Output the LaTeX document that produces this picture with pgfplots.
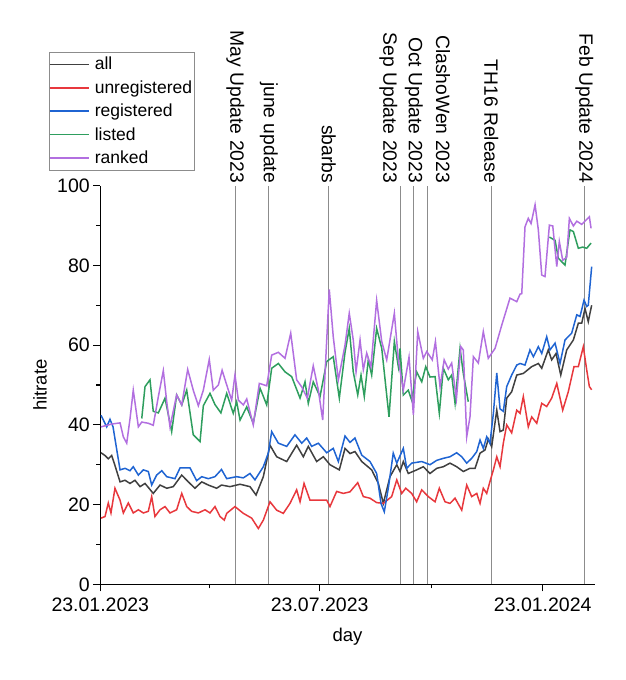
\documentclass[border=0pt]{standalone}
\usepackage{pgfplots}
\pgfplotsset{compat=1.18}
\usepackage{fontspec}
\setmainfont{Liberation Sans}
\definecolor{cAll}{HTML}{404040}
\definecolor{cUnreg}{HTML}{E8383D}
\definecolor{cReg}{HTML}{1F64D2}
\definecolor{cList}{HTML}{2E9E5E}
\definecolor{cRank}{HTML}{B26FE0}
\definecolor{cEvt}{HTML}{8C8C8C}
\begin{document}
\begin{tikzpicture}
\path[use as bounding box] (-100.3pt,-95.7pt) rectangle (525.7pt,584.3pt);
\begin{axis}[
  at={(0pt,0pt)}, anchor=south west,
  width=494.4pt, height=398.6pt, scale only axis,
  xmin=0, xmax=407.9, ymin=0, ymax=100,
  clip=false, no markers, unbounded coords=jump,
  axis x line*=bottom, axis y line*=left,
  axis line style={line width=1.1pt, black},
  tick align=outside,
  major tick length=7pt, minor tick length=4pt,
  every tick/.style={black, line width=1.1pt},
  xtick={0,181,365}, xticklabels={23.01.2023,23.07.2023,23.01.2024},
  minor xtick={90,273},
  ytick={0,20,...,100}, minor ytick={10,30,...,90},
  /pgf/number format/assume math mode=true,
  ticklabel style={font=\fontsize{19.5}{22}\selectfont},
  xticklabel style={yshift=-3pt},
  xlabel={day}, ylabel={hitrate},
  label style={font=\fontsize{18.5}{22}\selectfont},
  xlabel style={at={(axis description cs:0.5,-0.132)}, anchor=center},
  ylabel style={at={(axis description cs:-0.122,0.5)}, anchor=center},
  legend style={at={(-0.1038,1.3347)}, anchor=north west, draw=cEvt,
    font=\fontsize{17.5}{20}\selectfont, inner xsep=0pt, inner ysep=2.8pt, row sep=5.2pt,
    cells={anchor=west}, /tikz/every odd column/.append style={column sep=3pt}},
  legend image code/.code={\draw[#1, line width=1.6pt] (0pt,0pt) -- (39pt,0pt);},
  every axis plot/.append style={line width=1.5pt},
]
% event lines
\draw[cEvt, line width=1pt] (axis cs:111.5,0) -- (axis cs:111.5,100);
\draw[cEvt, line width=1pt] (axis cs:139,0) -- (axis cs:139,100);
\draw[cEvt, line width=1pt] (axis cs:188.6,0) -- (axis cs:188.6,100);
\draw[cEvt, line width=1pt] (axis cs:247.5,0) -- (axis cs:247.5,100);
\draw[cEvt, line width=1pt] (axis cs:258.6,0) -- (axis cs:258.6,100);
\draw[cEvt, line width=1pt] (axis cs:269.6,0) -- (axis cs:269.6,100);
\draw[cEvt, line width=1pt] (axis cs:322.6,0) -- (axis cs:322.6,100);
\draw[cEvt, line width=1pt] (axis cs:399.4,0) -- (axis cs:399.4,100);
\tikzset{evlab/.style={rotate=-90, anchor=east, inner sep=0pt, font=\fontsize{19.3}{22}\selectfont}}
\node[evlab] at ([yshift=2.5pt]axis cs:111.5,100) {May Update 2023};
\node[evlab] at ([yshift=2.5pt]axis cs:139,100) {june update};
\node[evlab] at ([yshift=2.5pt]axis cs:188.6,100) {sbarbs};
\node[evlab] at ([xshift=-12pt,yshift=2.5pt]axis cs:247.5,100) {Sep Update 2023};
\node[evlab] at ([yshift=2.5pt]axis cs:258.6,100) {Oct Update 2023};
\node[evlab] at ([xshift=16pt,yshift=2.5pt]axis cs:269.6,100) {ClashoWen 2023};
\node[evlab] at ([yshift=2.5pt]axis cs:322.6,100) {TH16 Release};
\node[evlab] at ([yshift=2.5pt]axis cs:399.4,100) {Feb Update 2024};

\addplot[cAll] table[row sep=\\] {d v\\
0.6 33.0\\ 3.9 32.3\\ 6.6 31.5\\ 9.4 32.3\\ 12.1 29.8\\ 16.3 25.7\\ 20.4 26.1\\ 24.5 25.3\\
28.6 26.1\\ 32.8 24.5\\ 36.9 25.3\\ 43.7 22.8\\ 49.3 24.9\\ 54.8 24.1\\ 60.2 24.5\\ 67.2 27.4\\
72.6 25.7\\ 78.1 24.1\\ 83.7 25.7\\ 89.1 24.9\\ 96 24.1\\ 100 24.9\\ 107 24.5\\ 115.3 25.1\\
123.5 24.5\\ 128.5 22.4\\ 134.5 27.0\\ 140 34.9\\ 145.5 32.0\\ 153.8 30.8\\ 162 34.9\\ 167.5 32.0\\
171.6 34.6\\ 178.5 30.8\\ 184 32.0\\ 189.5 30.0\\ 197.2 28.7\\ 201.9 34.1\\ 206 32.8\\ 210.1 33.3\\
215.7 30.8\\ 223.9 28.7\\ 229.4 25.3\\ 233.5 20.3\\ 239 27.0\\ 244.6 30.0\\ 247.3 28.3\\ 250 30.8\\
254.1 27.8\\ 261 28.7\\ 266.5 29.5\\ 272 27.8\\ 277.6 29.1\\ 283 29.5\\ 288.5 30.4\\ 294 29.5\\
299.5 28.3\\ 305 29.1\\ 309.2 29.1\\ 313.3 32.9\\ 317.4 33.7\\ 320.1 36.4\\ 322.9 34.5\\ 327.1 43.7\\
329.8 38.3\\ 332.5 38.7\\ 335.3 46.7\\ 339.4 48.3\\ 343.6 52.5\\ 349 52.9\\ 355.9 54.6\\ 361.4 55.4\\
364.2 54.2\\ 369.6 58.8\\ 372.4 56.3\\ 376 57.9\\ 379.9 52.5\\ 384.8 58.8\\ 390.3 61.3\\ 394.4 65.5\\
397.2 65.5\\ 399.9 69.2\\ 402.6 65.9\\ 404 68.0\\ 405.4 70.0\\
};
\addlegendentry{all}
\addplot[cUnreg] table[row sep=\\] {d v\\
0.6 16.6\\ 3.9 17.0\\ 6.6 20.4\\ 8.8 17.9\\ 12.1 24.1\\ 16.3 21.1\\ 19 17.9\\ 23.1 20.4\\
27.2 17.9\\ 31.4 18.7\\ 35.5 17.9\\ 39.6 18.3\\ 42.4 22.0\\ 45.1 17.0\\ 49.3 18.7\\ 53.4 19.5\\
57.5 17.9\\ 63 18.7\\ 67.2 22.8\\ 71.3 19.5\\ 75.4 18.3\\ 80.9 17.9\\ 86.4 18.7\\ 90.5 17.9\\
94.6 19.5\\ 98.8 17.0\\ 102.3 16.1\\ 104.3 17.8\\ 111.1 19.5\\ 118 17.8\\ 124.9 16.6\\ 130.4 14.0\\
134.5 16.1\\ 140 20.7\\ 145.5 18.6\\ 151 17.8\\ 156.5 20.3\\ 162 23.7\\ 164.8 20.7\\ 168.1 25.3\\
173 21.1\\ 179.9 21.1\\ 186.8 21.1\\ 189.5 19.5\\ 195 23.3\\ 200.5 22.8\\ 206 23.2\\ 212.4 25.5\\
217 22.0\\ 222.5 21.6\\ 228 20.5\\ 233.5 20.3\\ 240.4 22.0\\ 244.6 26.2\\ 248.7 22.8\\ 252 24.1\\
256.9 22.8\\ 261 20.7\\ 265.2 23.7\\ 270.6 22.0\\ 276.2 20.7\\ 279.7 24.1\\ 284.4 20.7\\ 288.5 20.3\\
292.7 21.6\\ 298.2 18.6\\ 302.3 24.9\\ 306.4 22.0\\ 310.6 22.8\\ 313.3 20.3\\ 316 24.1\\ 318.8 22.8\\
321.5 25.8\\ 324.3 28.7\\ 327.1 32.0\\ 329.8 29.5\\ 332.5 35.4\\ 335.3 40.0\\ 339.4 38.0\\ 343.6 43.7\\
346.3 42.9\\ 349 47.1\\ 353.1 39.5\\ 355.9 42.0\\ 360.1 40.4\\ 364.2 45.4\\ 368.3 44.6\\ 372.4 46.7\\
376.6 50.4\\ 381.5 43.7\\ 386.1 48.3\\ 390.8 54.6\\ 394.4 54.6\\ 398.5 59.6\\ 401.3 53.8\\ 403.5 49.6\\
405.4 48.8\\
};
\addlegendentry{unregistered}
\addplot[cReg] table[row sep=\\] {d v\\
0.6 42.4\\ 5.3 39.5\\ 8.0 41.4\\ 10.5 39.5\\ 16.3 28.7\\ 20.4 29.1\\ 24.5 28.5\\ 27.2 29.5\\
31.4 27.4\\ 35.5 28.7\\ 39.6 28.3\\ 42.4 24.9\\ 46.5 27.4\\ 50.7 28.5\\ 54.8 27.0\\ 61.6 26.5\\
65.8 29.2\\ 74.0 29.2\\ 79.5 26.0\\ 83.7 27.0\\ 89.1 26.5\\ 94.6 27.0\\ 100 28.8\\ 104.3 26.5\\
112.5 27.0\\ 118 26.7\\ 123.5 27.8\\ 127.6 26.2\\ 134.5 29.5\\ 138.6 32.9\\ 141.4 38.3\\ 146.9 35.4\\
153.8 34.6\\ 160.6 37.5\\ 166.2 35.4\\ 170.3 36.7\\ 174.4 34.6\\ 179.9 35.4\\ 186.8 33.0\\ 192.2 34.1\\
196.4 30.8\\ 201.9 37.2\\ 206 35.6\\ 210.1 36.7\\ 215.7 32.4\\ 222.5 30.8\\ 228 27.8\\ 231.6 20.3\\
234.3 18.2\\ 237.6 24.1\\ 241.7 32.9\\ 244.6 30.4\\ 250 34.1\\ 252.8 29.1\\ 256.9 30.4\\ 265.2 30.8\\
272 30.0\\ 277.6 31.1\\ 283 31.6\\ 288.5 32.0\\ 294 33.0\\ 298.2 32.0\\ 302.3 30.4\\ 306.4 31.6\\
310.6 33.3\\ 313.3 36.2\\ 316 34.1\\ 318.8 37.0\\ 321.5 35.4\\ 324.3 42.9\\ 327.1 53.0\\ 329.8 44.0\\
332.5 43.4\\ 335.3 49.6\\ 339.4 52.5\\ 343.6 55.0\\ 346.3 55.4\\ 350.4 55.0\\ 354.5 58.8\\ 357.3 57.1\\
361.4 59.6\\ 364.2 57.9\\ 368.3 62.1\\ 371 58.8\\ 375.2 60.5\\ 379.3 55.4\\ 383.4 61.3\\ 388.9 63.0\\
393.1 67.6\\ 395.8 67.2\\ 399.1 71.3\\ 401.3 69.7\\ 402.6 70.0\\ 405.4 79.7\\
};
\addlegendentry{registered}
\addplot[cList] table[row sep=\\] {d v\\
34.2 41.6\\ 36.9 49.6\\ 41 51.3\\ 43.7 43.4\\ 47.9 43.0\\ 53.4 46.7\\ 58.9 38.3\\ 63 47.5\\
67.2 45.0\\ 71.3 48.7\\ 76.7 37.5\\ 82.3 35.8\\ 85 44.8\\ 90.5 47.9\\ 94.6 45.1\\ 99.5 43.0\\
104.3 47.9\\ 109.7 42.9\\ 112.5 45.8\\ 115.3 41.2\\ 120.8 44.5\\ 126.2 40.4\\ 131.8 49.2\\ 137.3 45.0\\
141.4 54.2\\ 146.9 55.4\\ 152.4 53.3\\ 157.9 52.1\\ 164.8 46.7\\ 168.9 50.8\\ 171.6 45.4\\ 175.7 50.8\\
181.3 47.1\\ 186.8 55.9\\ 192.2 57.1\\ 197.2 46.7\\ 201.9 58.2\\ 205.4 64.2\\ 208.7 53.3\\ 212.4 47.5\\
215.1 52.5\\ 217.8 47.1\\ 221.1 56.3\\ 223.9 52.5\\ 228 64.2\\ 232.2 59.2\\ 238.2 42.0\\ 242.6 60.9\\
245.9 54.6\\ 247.3 59.2\\ 250 47.5\\ 254.1 48.7\\ 256.9 46.2\\ 261 53.3\\ 265.2 50.8\\ 268.5 54.6\\
272 52.0\\ 276.2 52.1\\ 279.7 42.9\\ 283 54.2\\ 287.1 51.3\\ 289.9 52.5\\ 292.7 45.4\\ 296.8 59.2\\
299.5 52.9\\ 303.6 45.8\\ nan nan\\
370.5 87.1\\ 375.2 86.3\\ 377.9 81.8\\ 383.4 80.1\\ 387.5 88.9\\ 390.3 88.5\\ 394.4 84.3\\ 398 84.6\\
401.3 84.3\\ 404.9 85.6\\
};
\addlegendentry{listed}
\addplot[cRank] table[row sep=\\] {d v\\
0.6 39.5\\ 9.4 40.2\\ 16.3 40.5\\ 19 37.0\\ 21.8 35.4\\ 24.5 41.5\\ 27.2 48.7\\ 31.4 39.5\\
34.2 40.7\\ 39.6 40.4\\ 43.7 39.9\\ 47.9 47.1\\ 52 53.6\\ 54.8 45.8\\ 57.5 39.5\\ 63 47.5\\
67.2 45.0\\ 72.1 53.9\\ 76.7 48.7\\ 80.9 44.8\\ 85 48.7\\ 89.9 56.4\\ 93.2 48.7\\ 97.4 50.0\\
100.5 53.7\\ 104.3 50.0\\ 108.4 46.2\\ 111.1 52.5\\ 113.9 46.2\\ 118 45.0\\ 120.8 46.5\\ 126.2 40.0\\
131.2 50.4\\ 137.3 49.8\\ 141.4 57.5\\ 146.9 58.2\\ 152.4 56.7\\ 157.1 63.0\\ 162 51.3\\ 166.2 49.5\\
170.8 46.7\\ 175.7 54.8\\ 179.9 48.7\\ 183.5 41.2\\ 188.9 74.0\\ 192.2 62.1\\ 196.4 51.3\\ 201.9 60.0\\
205.4 68.0\\ 208.7 61.3\\ 211 53.3\\ 214.3 61.3\\ 217 53.8\\ 219.8 58.0\\ 223.3 54.6\\ 228 71.2\\
232.2 60.9\\ 236.3 56.3\\ 242.6 68.0\\ 245.9 56.3\\ 250 48.7\\ 254.7 57.0\\ 258.3 42.5\\ 261.9 63.4\\
266.5 56.7\\ 269.3 58.4\\ 273.9 56.3\\ 276.5 60.9\\ 280.3 49.5\\ 283.7 56.3\\ 287.1 54.0\\ 289.9 55.5\\
293.8 46.5\\ 297.5 59.6\\ 299.5 58.8\\ 302.3 37.0\\ 305 42.0\\ 307.8 57.1\\ 311.9 55.5\\ 316 63.4\\
320.1 56.7\\ 325.7 59.2\\ 331.2 65.0\\ 338 71.8\\ 343.6 70.9\\ 346.3 72.8\\ 347.7 72.9\\ 350.4 89.7\\
353.1 91.8\\ 355.4 90.5\\ 358.7 95.2\\ 361.4 88.9\\ 364.2 77.6\\ 366.9 77.2\\ 370.5 90.1\\ 373.3 89.9\\
376.6 79.7\\ 378.7 86.0\\ 381.5 81.3\\ 384.8 82.0\\ 387 91.8\\ 390.3 89.9\\ 393.1 91.1\\ 397.2 90.3\\
399.9 91.1\\ 403.5 92.2\\ 404.9 89.3\\
};
\addlegendentry{ranked}
\end{axis}
\end{tikzpicture}
\end{document}
